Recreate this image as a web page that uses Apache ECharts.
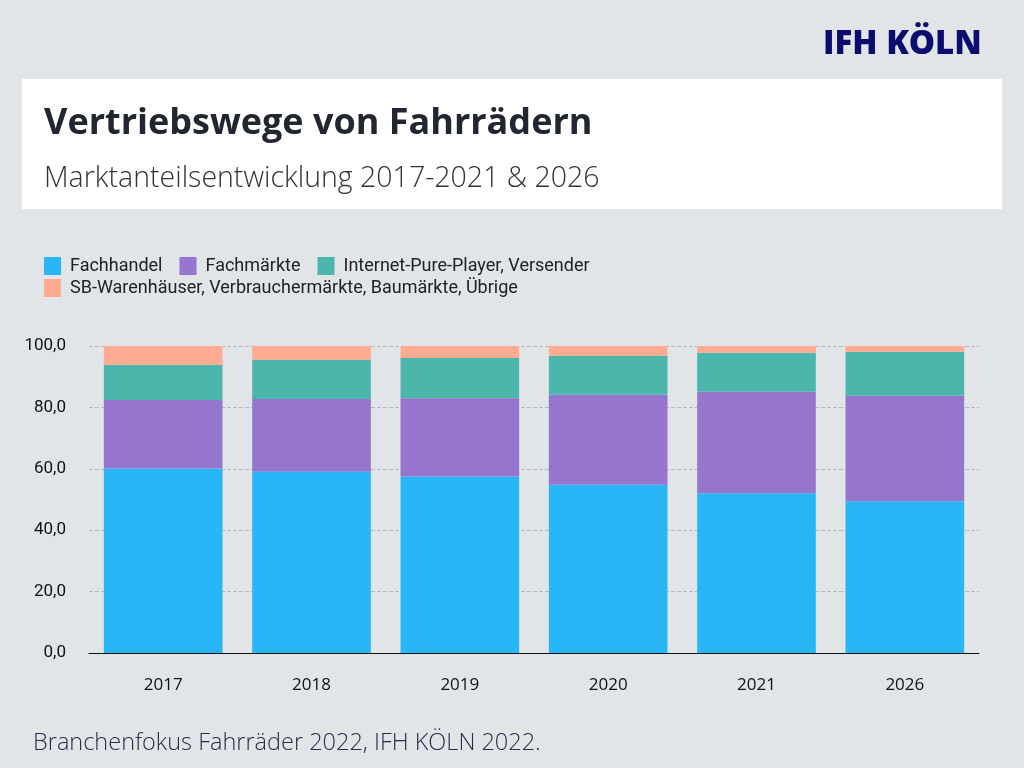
<!DOCTYPE html>
<html>
<head>
<meta charset="utf-8">
<script src="https://cdn.jsdelivr.net/npm/echarts@6/dist/echarts.min.js"></script>
<style>
  html, body { margin: 0; padding: 0; background: #e1e5e8; }
  #chart { width: 1024px; height: 768px; }
</style>
</head>
<body>
<div id="chart"></div>
<script>
const years = ['2017', '2018', '2019', '2020', '2021', '2026'];
const fachhandel = [60.1, 59.0, 57.5, 54.8, 52.0, 49.4];
const fachmaerkte = [22.3, 23.7, 25.5, 29.3, 33.1, 34.4];
const internet = [11.4, 12.8, 13.1, 12.7, 12.7, 14.3];
const sbWaren = [6.2, 4.5, 3.9, 3.2, 2.2, 1.9];
const yTicks = [0, 20, 40, 60, 80, 100];

const names = [
    'Fachhandel',
    'Fachmärkte',
    'Internet-Pure-Player, Versender',
    'SB-Warenhäuser, Verbrauchermärkte, Baumärkte, Übrige'
];
const colors = ['#29b6f6', '#9575cd', '#4db6ac', '#ffab91'];
const values = [fachhandel, fachmaerkte, internet, sbWaren];

const chart = echarts.init(document.getElementById('chart'));

const legendText = { color: '#222', fontSize: 18, fontFamily: 'Roboto', padding: [0, 0, 0, 4] };

const option = {
    backgroundColor: '#e1e5e8',
    color: colors,
    graphic: [
        {
            type: 'rect',
            shape: { x: 22, y: 79, width: 980, height: 130 },
            style: { fill: '#ffffff' },
            z: -1
        },
        {
            type: 'text',
            left: 823, top: 28,
            style: {
                text: 'IFH KÖLN',
                fill: '#0c0c70',
                font: '800 33px "Open Sans"'
            }
        },
        {
            type: 'text',
            left: 44, top: 106,
            style: {
                text: 'Vertriebswege von Fahrrädern',
                fill: '#222630',
                font: 'bold 36px "Open Sans"'
            }
        },
        {
            type: 'text',
            left: 44, top: 164,
            style: {
                text: 'Marktanteilsentwicklung 2017-2021 & 2026',
                fill: '#333',
                font: '300 28.5px "Open Sans"'
            }
        },
        {
            type: 'text',
            left: 33, top: 731,
            style: {
                text: 'Branchenfokus Fahrräder 2022, IFH KÖLN 2022.',
                fill: '#2a2d4a',
                font: '300 23.5px "Open Sans"'
            }
        }
    ],
    legend: [
        {
            left: 44, top: 257, padding: 0,
            icon: 'rect',
            itemWidth: 17, itemHeight: 18, itemGap: 17,
            textStyle: legendText,
            data: names.slice(0, 3)
        },
        {
            left: 44, top: 279, padding: 0,
            icon: 'rect',
            itemWidth: 17, itemHeight: 18,
            textStyle: legendText,
            data: names.slice(3)
        }
    ],
    grid: { left: 89, right: 45, top: 346, bottom: 115 },
    xAxis: {
        type: 'category',
        data: years,
        axisLine: { lineStyle: { color: '#111', width: 1 } },
        axisTick: { show: false },
        axisLabel: { color: '#111', fontSize: 17, fontWeight: 500, fontFamily: 'Open Sans', margin: 24 }
    },
    yAxis: {
        type: 'value',
        min: yTicks[0],
        max: yTicks[yTicks.length - 1],
        interval: 20,
        axisLine: { show: false },
        axisTick: { show: false },
        splitLine: { lineStyle: { color: '#b9bcbf', type: 'dashed' } },
        axisLabel: {
            color: '#111', fontSize: 17, fontFamily: 'Roboto', margin: 23,
            formatter: v => v.toFixed(1).replace('.', ',')
        }
    },
    series: names.map((n, i) => ({
        name: n,
        type: 'bar',
        stack: 'total',
        barCategoryGap: '20%',
        data: values[i],
        itemStyle: { color: colors[i] }
    }))
};
chart.setOption(option);
</script>
</body>
</html>
